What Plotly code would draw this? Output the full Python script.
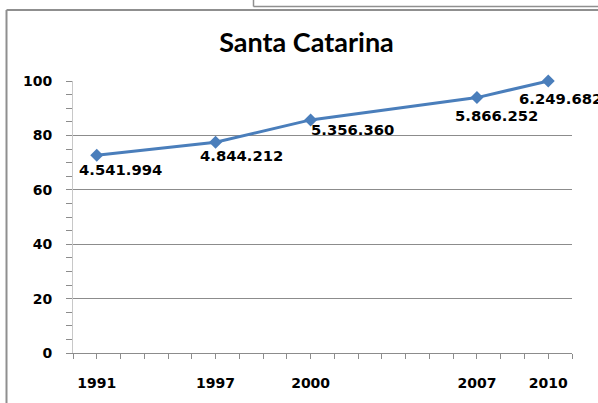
import plotly.graph_objects as go

# ---- data ----
x_pos = [1991, 1996, 2000, 2007, 2010]          # horizontal position of each point on the year axis
tick_labels = ["1991", "1997", "2000", "2007", "2010"]
index_values = [72.7, 77.5, 85.7, 93.9, 100.0]  # y values (index, 2010 = 100)
point_labels = ["4.541.994", "4.844.212", "5.356.360", "5.866.252", "6.249.682"]
title_text = "Santa Catarina"

# label offsets in pixels (layout only)
label_dx = [-20, -18, -2, -24, -31]
label_dy = [-14, -13, -10, -18, -17]

W, H = 598, 403
# plot area in window pixels: x 73..572, y 81..355
ML, MT = 73, 81
MR, MB = 598 - 572, 403 - 355
PW, PH = W - ML - MR, H - MT - MB

def px(x):
    return (x - ML) / PW

def py(y):
    return (H - MB - y) / PH

LINE = "#4a7ebb"
FONT = "DejaVu Sans"

fig = go.Figure()
fig.add_trace(go.Scatter(
    x=x_pos, y=index_values, mode="lines+markers",
    line=dict(color=LINE, width=3),
    marker=dict(symbol="diamond", size=10, color=LINE),
    hoverinfo="skip", showlegend=False, cliponaxis=False,
))

for xv, yv, txt, dx, dy in zip(x_pos, index_values, point_labels, label_dx, label_dy):
    fig.add_annotation(x=xv, y=yv, xref="x", yref="y", text=txt, showarrow=False,
                       xanchor="left", yanchor="middle", xshift=dx, yshift=dy,
                       font=dict(family=FONT, size=14.8, color="black", weight="bold"))

# frame of the chart area and neighbouring box
frame_col = "#8f8f8f"
fig.add_shape(type="line", xref="paper", yref="paper", x0=px(6.5), x1=px(620), y0=py(9.5), y1=py(9.5),
              line=dict(color=frame_col, width=2))
fig.add_shape(type="line", xref="paper", yref="paper", x0=px(6.5), x1=px(6.5), y0=py(9.5), y1=py(420),
              line=dict(color=frame_col, width=2))
fig.add_shape(type="line", xref="paper", yref="paper", x0=px(253.5), x1=px(620), y0=py(6), y1=py(6),
              line=dict(color=frame_col, width=1.5))
fig.add_shape(type="line", xref="paper", yref="paper", x0=px(253.5), x1=px(253.5), y0=py(-5), y1=py(6),
              line=dict(color=frame_col, width=1.5))

fig.update_layout(
    width=W, height=H,
    margin=dict(l=ML, r=MR, t=MT, b=MB, pad=0),
    paper_bgcolor="white", plot_bgcolor="white",
    title=dict(text=title_text, x=306.5 / W, xref="container", xanchor="center",
               y=1 - 43 / H, yref="container", yanchor="middle",
               font=dict(family="Lato", size=27, color="black", weight="bold")),
    font=dict(family=FONT, color="black"),
)

fig.update_xaxes(
    range=[1990, 2011], tickmode="array", tickvals=x_pos, ticktext=tick_labels,
    showgrid=False, zeroline=False, showline=True, linecolor="#8c8c8c", linewidth=1,
    ticks="outside", ticklen=5, tickcolor="#8c8c8c", ticklabelstandoff=12,
    minor=dict(ticks="outside", dtick=1, tick0=1990, ticklen=5, tickcolor="#8c8c8c", showgrid=False),
    tickfont=dict(family=FONT, size=14, color="black", weight="bold"),
    fixedrange=True,
)
fig.update_yaxes(
    range=[0, 100], dtick=20, tick0=0,
    showgrid=True, gridcolor="#8c8c8c", gridwidth=1, zeroline=False,
    showline=True, linecolor="#c8c8c8", linewidth=1,
    ticks="outside", ticklen=6, tickcolor="#8c8c8c", ticklabelstandoff=11,
    minor=dict(ticks="outside", dtick=5, ticklen=6, tickcolor="#8c8c8c", showgrid=False),
    tickfont=dict(family=FONT, size=14, color="black", weight="bold"),
    fixedrange=True,
)

fig.write_html("out.html", config={"displayModeBar": False, "staticPlot": True},
               post_script="document.body.style.margin='0';document.body.style.overflow='hidden';")
